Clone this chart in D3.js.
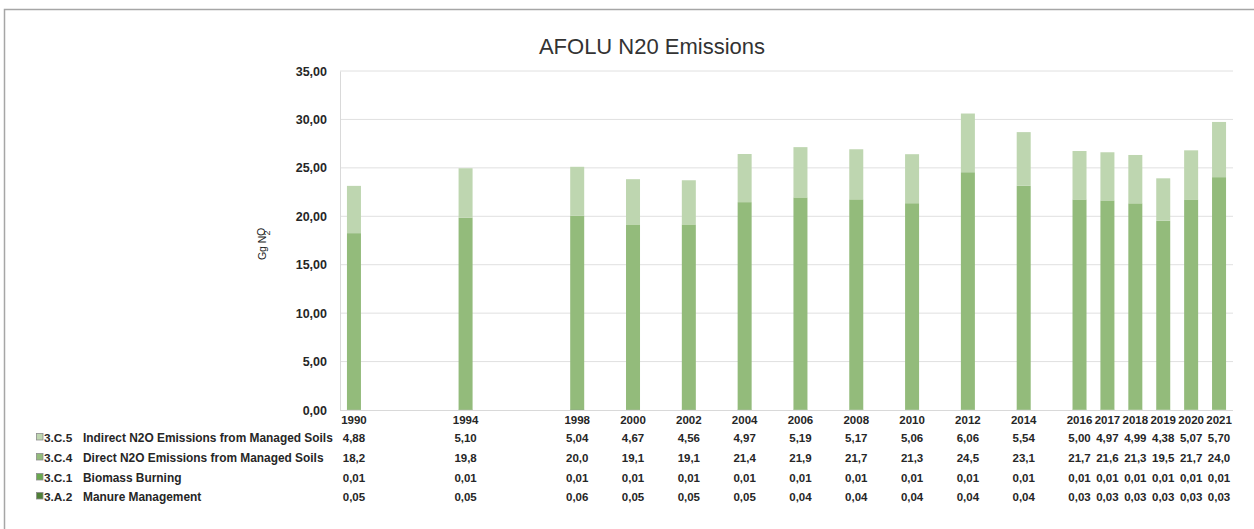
<!DOCTYPE html>
<html>
<head>
<meta charset="utf-8">
<script src="https://cdn.jsdelivr.net/npm/d3@7"></script>
<style>
  html, body { margin: 0; padding: 0; background: #fff; }
  svg { display: block; font-family: "Liberation Sans", Arial, sans-serif; }
</style>
</head>
<body>
<svg id="chart" width="1254" height="529"></svg>
<script>
// Inventory years shown on the category axis
const years = [1990, 1994, 1998, 2000, 2002, 2004, 2006, 2008, 2010, 2012, 2014, 2016, 2017, 2018, 2019, 2020, 2021];

// N2O emissions by source category (Gg N2O)
const manureManagement = [0.05, 0.05, 0.06, 0.05, 0.05, 0.05, 0.04, 0.04, 0.04, 0.04, 0.04, 0.03, 0.03, 0.03, 0.03, 0.03, 0.03];
const biomassBurning   = [0.01, 0.01, 0.01, 0.01, 0.01, 0.01, 0.01, 0.01, 0.01, 0.01, 0.01, 0.01, 0.01, 0.01, 0.01, 0.01, 0.01];
const directSoils      = [18.2, 19.8, 20.0, 19.1, 19.1, 21.4, 21.9, 21.7, 21.3, 24.5, 23.1, 21.7, 21.6, 21.3, 19.5, 21.7, 24.0];
const indirectSoils    = [4.88, 5.10, 5.04, 4.67, 4.56, 4.97, 5.19, 5.17, 5.06, 6.06, 5.54, 5.00, 4.97, 4.99, 4.38, 5.07, 5.70];

// Series codes and names (stack order: bottom to top)
const seriesCodes = ["3.A.2", "3.C.1", "3.C.4", "3.C.5"];
const seriesNames = ["Manure Management", "Biomass Burning", "Direct N2O Emissions from Managed Soils", "Indirect N2O Emissions from Managed Soils"];
const seriesDecimals = [2, 2, 1, 2];

const yTicks = [0, 5, 10, 15, 20, 25, 30, 35];

const colors = ["#4f7f37", "#6aa84f", "#93bb7b", "#bed6b0"];
const seriesValues = [manureManagement, biomassBurning, directSoils, indirectSoils];

const svg = d3.select("#chart");
const plot = { left: 340, right: 1233, top: 71, bottom: 410 };
const textColor = "#262626";

const locale = d3.formatLocale({ decimal: ",", thousands: ".", grouping: [3], currency: ["", ""] });

// Outer frame
svg.append("rect")
  .attr("x", 4.5).attr("y", 9.5)
  .attr("width", 1300).attr("height", 600)
  .attr("fill", "none").attr("stroke", "#a6a6a6").attr("stroke-width", 1.5);

// Title
svg.append("text")
  .attr("x", 652).attr("y", 54)
  .attr("text-anchor", "middle")
  .attr("font-size", 22)
  .attr("fill", "#333")
  .text("AFOLU N20 Emissions");

// Scales
const x = d3.scaleLinear().domain([1989.5, 2021.5]).range([plot.left, plot.right]);
const y = d3.scaleLinear().domain([0, 35]).range([plot.bottom, plot.top]);

// Horizontal gridlines
svg.append("g")
  .selectAll("line")
  .data(yTicks.filter(d => d > 0))
  .join("line")
  .attr("x1", plot.left).attr("x2", plot.right)
  .attr("y1", d => y(d)).attr("y2", d => y(d))
  .attr("stroke", "#e0e0e0").attr("stroke-width", 1);

// Y axis labels
const yAxis = svg.append("g")
  .attr("transform", `translate(${plot.left},0)`)
  .call(d3.axisLeft(y).tickValues(yTicks).tickSize(0).tickPadding(13)
    .tickFormat(d => locale.format(".2f")(d)));
yAxis.select(".domain").attr("stroke", "#d9d9d9");
yAxis.selectAll("text")
  .attr("font-family", "'Liberation Sans', Arial, sans-serif")
  .attr("font-size", 12.5).attr("font-weight", "bold").attr("fill", textColor);

// Y axis title
const yTitle = svg.append("text")
  .attr("transform", "translate(266,244) rotate(-90)")
  .attr("text-anchor", "middle")
  .attr("font-size", 10.5)
  .attr("fill", textColor);
yTitle.append("tspan").text("Gg N");
yTitle.append("tspan").attr("dy", 3.5).attr("font-size", 9).text("2");
yTitle.append("tspan").attr("dx", -5.5).attr("dy", -5).text("O");

// Stacked data
const rows = years.map((yr, i) => {
  const r = { year: yr };
  seriesCodes.forEach((c, k) => { r[c] = seriesValues[k][i]; });
  return r;
});
const stacked = d3.stack().keys(seriesCodes)(rows);

const barWidth = 14;
svg.append("g")
  .selectAll("g")
  .data(stacked)
  .join("g")
  .attr("fill", (d, i) => colors[i])
  .selectAll("rect")
  .data(d => d)
  .join("rect")
  .attr("x", d => x(d.data.year) - barWidth / 2)
  .attr("width", barWidth)
  .attr("y", d => y(d[1]))
  .attr("height", d => y(d[0]) - y(d[1]));

// Baseline
svg.append("line")
  .attr("x1", plot.left).attr("x2", plot.right)
  .attr("y1", plot.bottom + 0.5).attr("y2", plot.bottom + 0.5)
  .attr("stroke", "#d9d9d9");

// Year labels
svg.append("g")
  .selectAll("text")
  .data(years)
  .join("text")
  .attr("x", d => x(d))
  .attr("y", 424)
  .attr("text-anchor", "middle")
  .attr("font-size", 11.5).attr("font-weight", "bold").attr("fill", textColor)
  .text(d => d);

// Data table (top row = last series)
const tableRowY = [442, 462, 482, 501];
const tableOrder = [3, 2, 1, 0];
tableOrder.forEach((k, rowIdx) => {
  const g = svg.append("g");
  const ty = tableRowY[rowIdx];
  g.append("rect")
    .attr("x", 36.5).attr("y", ty - 8.5)
    .attr("width", 6.5).attr("height", 6.5)
    .attr("fill", colors[k]).attr("stroke", "#8c8c8c").attr("stroke-width", 0.8);
  g.append("text")
    .attr("x", 44).attr("y", ty)
    .attr("font-size", 11.8).attr("font-weight", "bold").attr("fill", textColor)
    .text(seriesCodes[k]);
  g.append("text")
    .attr("x", 83).attr("y", ty)
    .attr("font-size", 11.9).attr("font-weight", "bold").attr("fill", textColor)
    .text(seriesNames[k]);
  const fmt = locale.format(`.${seriesDecimals[k]}f`);
  g.selectAll("text.val")
    .data(seriesValues[k])
    .join("text")
    .attr("class", "val")
    .attr("x", (d, i) => x(years[i]))
    .attr("y", ty)
    .attr("text-anchor", "middle")
    .attr("font-size", 11.5).attr("font-weight", "bold").attr("fill", textColor)
    .text(d => fmt(d));
});
</script>
</body>
</html>
